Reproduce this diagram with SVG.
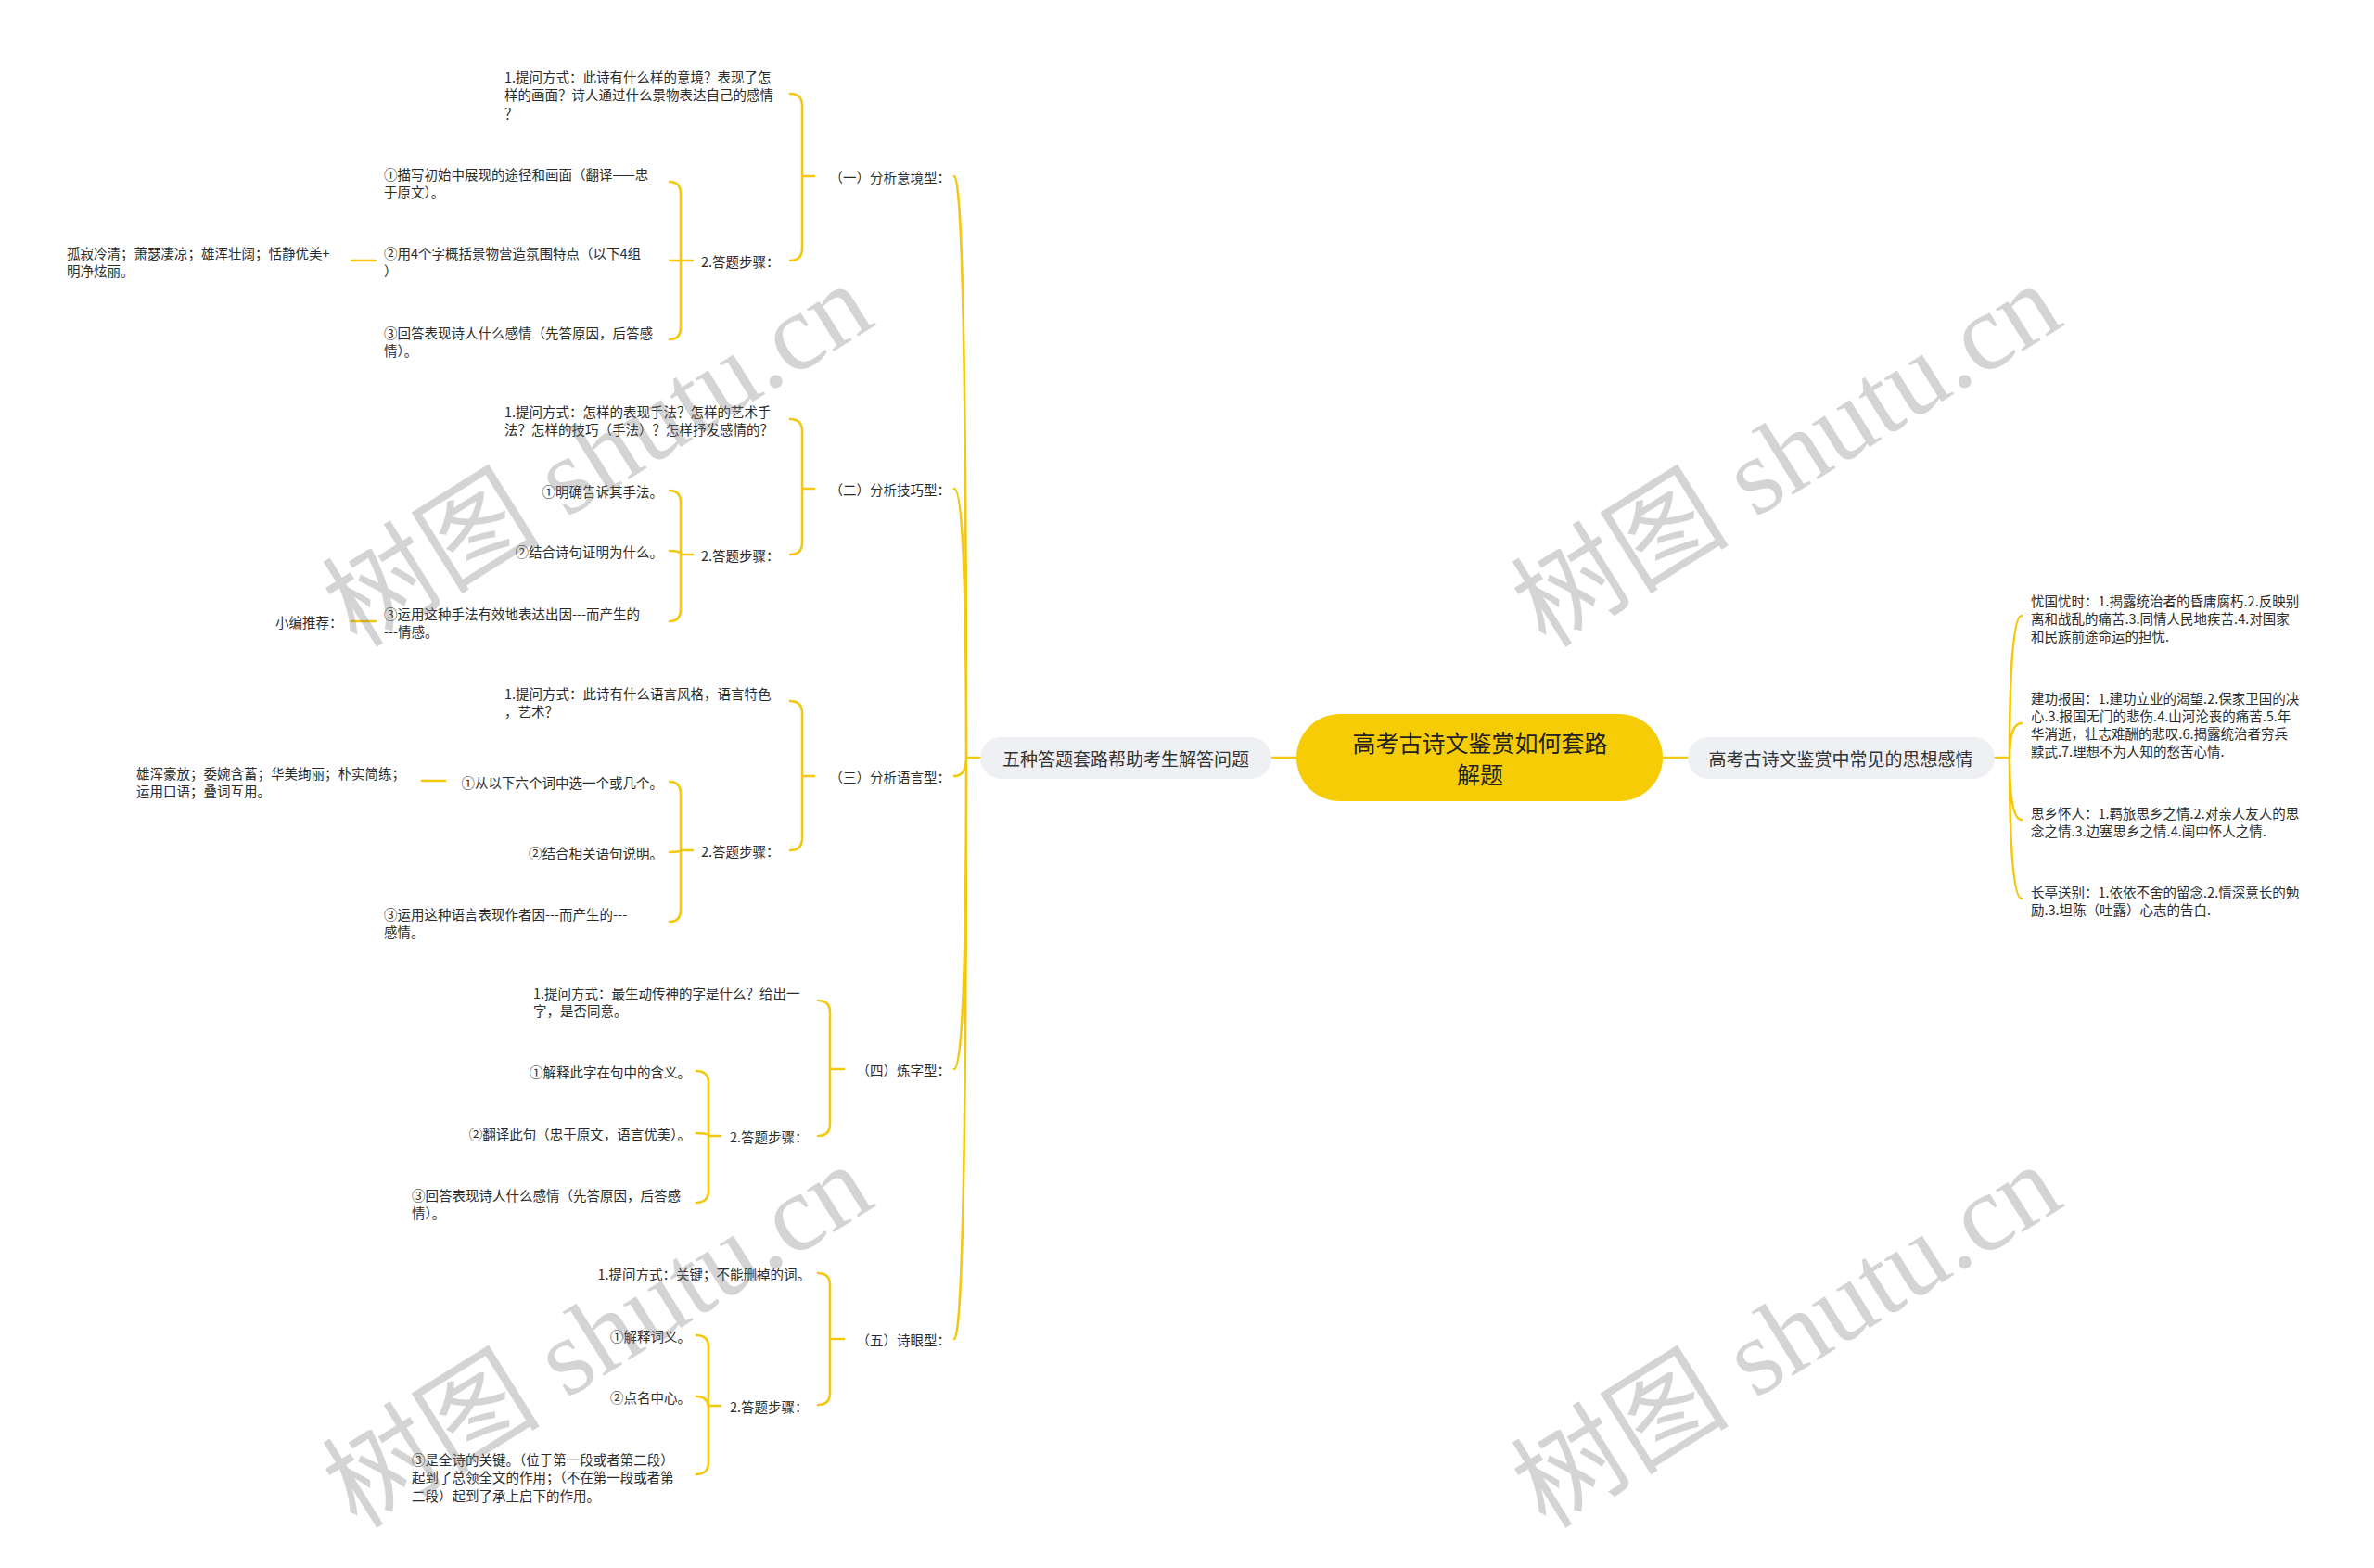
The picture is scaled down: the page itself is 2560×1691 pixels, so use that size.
<svg xmlns="http://www.w3.org/2000/svg" width="2560" height="1691" viewBox="0 0 2560 1691">
<style>
.t{font-family:"Noto Sans CJK SC","Noto Sans",sans-serif;font-size:14.5px;fill:#2b2b2b;dominant-baseline:central}
.e{text-anchor:end}
.n{font-family:"Noto Sans CJK SC","Noto Sans",sans-serif;font-size:19px;fill:#333;dominant-baseline:central;text-anchor:middle}
.c{font-family:"Noto Sans CJK SC","Noto Sans",sans-serif;font-size:25px;fill:#222;dominant-baseline:central;text-anchor:middle}
.l{fill:none;stroke:#F2C811;stroke-width:2.6;stroke-linecap:round}
.w{font-family:"Liberation Serif","Noto Sans CJK SC",serif;font-size:118px;fill:#7a7a7a;fill-opacity:0.32}
</style>
<rect width="2560" height="1691" fill="#fff"/>
<g id="connectors">
<path class="l" d="M1371 817H1398M1793 817H1820M1042 817H1057M2151 817H2167"/>
<path class="l" d="M1042 817Q1042 190 1029 190M1042 817Q1042 527 1029 527M1042 817Q1042 837 1029 837M1042 817Q1042 1153 1029 1153M1042 817Q1042 1444 1029 1444"/>
<path class="l" d="M2167 817Q2167 664 2180 664M2167 817Q2167 780 2180 780M2167 817Q2167 884 2180 884M2167 817Q2167 969 2180 969"/>
<path class="l" d="M878 190H865V114Q865 101 852 101M878 190H865V268Q865 281 852 281"/>
<path class="l" d="M747 281H734V209Q734 196 722 196M747 281H722M747 281H734V353Q734 366 722 366M379 281H405"/>
<path class="l" d="M878 527H865V465Q865 452 852 452M878 527H865V585Q865 598 852 598"/>
<path class="l" d="M747 598H734V542Q734 529 722 529M747 598H734Q734 594 722 594M747 598H734V657Q734 670 722 670M379 670H405"/>
<path class="l" d="M878 837H865V769Q865 756 852 756M878 837H865V904Q865 917 852 917"/>
<path class="l" d="M747 917H734V856Q734 843 722 843M747 917H734Q734 919 722 919M747 917H734V981Q734 994 722 994M455 842H480"/>
<path class="l" d="M910 1153H895V1092Q895 1079 882 1079M910 1153H895V1212Q895 1225 882 1225"/>
<path class="l" d="M777 1225H764V1168Q764 1155 751 1155M777 1225H764Q764 1222 751 1222M777 1225H764V1284Q764 1297 751 1297"/>
<path class="l" d="M910 1444H895V1386Q895 1373 882 1373M910 1444H895V1502Q895 1515 882 1515"/>
<path class="l" d="M777 1516H764V1519Q764 1506 751 1506M777 1516H764V1453Q764 1440 751 1440M777 1516H764V1577Q764 1590 751 1590"/>
</g>
<g id="root">
<rect x="1398" y="770" width="395" height="94" rx="47" fill="#F5CC05"/>
<text class="c" x="1596" y="800">高考古诗文鉴赏如何套路</text>
<text class="c" x="1596" y="834">解题</text>
</g>
<g id="left-main">
<rect x="1057" y="795" width="314" height="45" rx="22.5" fill="#EEF0F3"/>
<text class="n" x="1214" y="817">五种答题套路帮助考生解答问题</text>
</g>
<g id="right-main">
<rect x="1820" y="795" width="331" height="45" rx="22.5" fill="#EEF0F3"/>
<text class="n" x="1985" y="817">高考古诗文鉴赏中常见的思想感情</text>
</g>
<g id="type1">
<text class="t e" x="1025" y="190">（一）分析意境型：</text>
</g>
<g id="type1-q"><text class="t" x="544" y="82">1.提问方式：此诗有什么样的意境？表现了怎</text><text class="t" x="544" y="101.5">样的画面？诗人通过什么景物表达自己的感情</text><text class="t" x="544" y="121">？</text></g>
<g id="type1-steps"><text class="t" x="756" y="281">2.答题步骤：</text></g>
<g id="type1-s1"><text class="t" x="414" y="187">①描写初始中展现的途径和画面（翻译——忠</text><text class="t" x="414" y="206.5">于原文）。</text></g>
<g id="type1-s2"><text class="t" x="414" y="272">②用4个字概括景物营造氛围特点（以下4组</text><text class="t" x="414" y="291.5">）</text></g>
<g id="type1-s2-a"><text class="t" x="72" y="272">孤寂冷清；萧瑟凄凉；雄浑壮阔；恬静优美+</text><text class="t" x="72" y="291.5">明净炫丽。</text></g>
<g id="type1-s3"><text class="t" x="414" y="358">③回答表现诗人什么感情（先答原因，后答感</text><text class="t" x="414" y="377.5">情）。</text></g>
<g id="type2">
<text class="t e" x="1025" y="527">（二）分析技巧型：</text>
</g>
<g id="type2-q"><text class="t" x="544" y="443">1.提问方式：怎样的表现手法？怎样的艺术手</text><text class="t" x="544" y="462.5">法？怎样的技巧（手法）？怎样抒发感情的？</text></g>
<g id="type2-steps"><text class="t" x="756" y="598">2.答题步骤：</text></g>
<g id="type2-s1"><text class="t e" x="715" y="529">①明确告诉其手法。</text></g>
<g id="type2-s2"><text class="t e" x="715" y="594">②结合诗句证明为什么。</text></g>
<g id="type2-s3"><text class="t" x="414" y="661">③运用这种手法有效地表达出因---而产生的</text><text class="t" x="414" y="680.5">---情感。</text></g>
<g id="type2-s3-a"><text class="t" x="297" y="670">小编推荐：</text></g>
<g id="type3">
<text class="t e" x="1025" y="837">（三）分析语言型：</text>
</g>
<g id="type3-q"><text class="t" x="544" y="747">1.提问方式：此诗有什么语言风格，语言特色</text><text class="t" x="544" y="766.5">，艺术？</text></g>
<g id="type3-steps"><text class="t" x="756" y="917">2.答题步骤：</text></g>
<g id="type3-s1"><text class="t e" x="715" y="843">①从以下六个词中选一个或几个。</text></g>
<g id="type3-s1-a"><text class="t" x="147" y="833">雄浑豪放；委婉含蓄；华美绚丽；朴实简练；</text><text class="t" x="147" y="852.5">运用口语；叠词互用。</text></g>
<g id="type3-s2"><text class="t e" x="715" y="919">②结合相关语句说明。</text></g>
<g id="type3-s3"><text class="t" x="414" y="985">③运用这种语言表现作者因---而产生的---</text><text class="t" x="414" y="1004.5">感情。</text></g>
<g id="type4">
<text class="t e" x="1025" y="1153">（四）炼字型：</text>
</g>
<g id="type4-q"><text class="t" x="575" y="1070">1.提问方式：最生动传神的字是什么？给出一</text><text class="t" x="575" y="1089.5">字，是否同意。</text></g>
<g id="type4-steps"><text class="t" x="787" y="1225">2.答题步骤：</text></g>
<g id="type4-s1"><text class="t e" x="745" y="1155">①解释此字在句中的含义。</text></g>
<g id="type4-s2"><text class="t e" x="745" y="1222">②翻译此句（忠于原文，语言优美）。</text></g>
<g id="type4-s3"><text class="t" x="444" y="1288">③回答表现诗人什么感情（先答原因，后答感</text><text class="t" x="444" y="1307.5">情）。</text></g>
<g id="type5">
<text class="t e" x="1025" y="1444">（五）诗眼型：</text>
</g>
<g id="type5-q"><text class="t e" x="874" y="1373">1.提问方式：关键；不能删掉的词。</text></g>
<g id="type5-steps"><text class="t" x="787" y="1516">2.答题步骤：</text></g>
<g id="type5-s1"><text class="t e" x="745" y="1440">①解释词义。</text></g>
<g id="type5-s2"><text class="t e" x="745" y="1506">②点名中心。</text></g>
<g id="type5-s3"><text class="t" x="444" y="1573">③是全诗的关键。（位于第一段或者第二段）</text><text class="t" x="444" y="1592.5">起到了总领全文的作用；（不在第一段或者第</text><text class="t" x="444" y="1612">二段）起到了承上启下的作用。</text></g>
<g id="feeling1"><text class="t" x="2190" y="647">忧国忧时：1.揭露统治者的昏庸腐朽.2.反映别</text><text class="t" x="2190" y="666">离和战乱的痛苦.3.同情人民地疾苦.4.对国家</text><text class="t" x="2190" y="685">和民族前途命运的担忧.</text></g>
<g id="feeling2"><text class="t" x="2190" y="752">建功报国：1.建功立业的渴望.2.保家卫国的决</text><text class="t" x="2190" y="771">心.3.报国无门的悲伤.4.山河沦丧的痛苦.5.年</text><text class="t" x="2190" y="790">华消逝，壮志难酬的悲叹.6.揭露统治者穷兵</text><text class="t" x="2190" y="809">黩武.7.理想不为人知的愁苦心情.</text></g>
<g id="feeling3"><text class="t" x="2190" y="876">思乡怀人：1.羁旅思乡之情.2.对亲人友人的思</text><text class="t" x="2190" y="895">念之情.3.边塞思乡之情.4.闺中怀人之情.</text></g>
<g id="feeling4"><text class="t" x="2190" y="961">长亭送别：1.依依不舍的留念.2.情深意长的勉</text><text class="t" x="2190" y="980">励.3.坦陈（吐露）心志的告白.</text></g>
<g id="watermark">
<text class="w" transform="translate(385 700) rotate(-32)">树图 shutu.cn</text>
<text class="w" transform="translate(1667 700) rotate(-32)">树图 shutu.cn</text>
<text class="w" transform="translate(385 1650) rotate(-32)">树图 shutu.cn</text>
<text class="w" transform="translate(1667 1650) rotate(-32)">树图 shutu.cn</text>
</g>
</svg>
